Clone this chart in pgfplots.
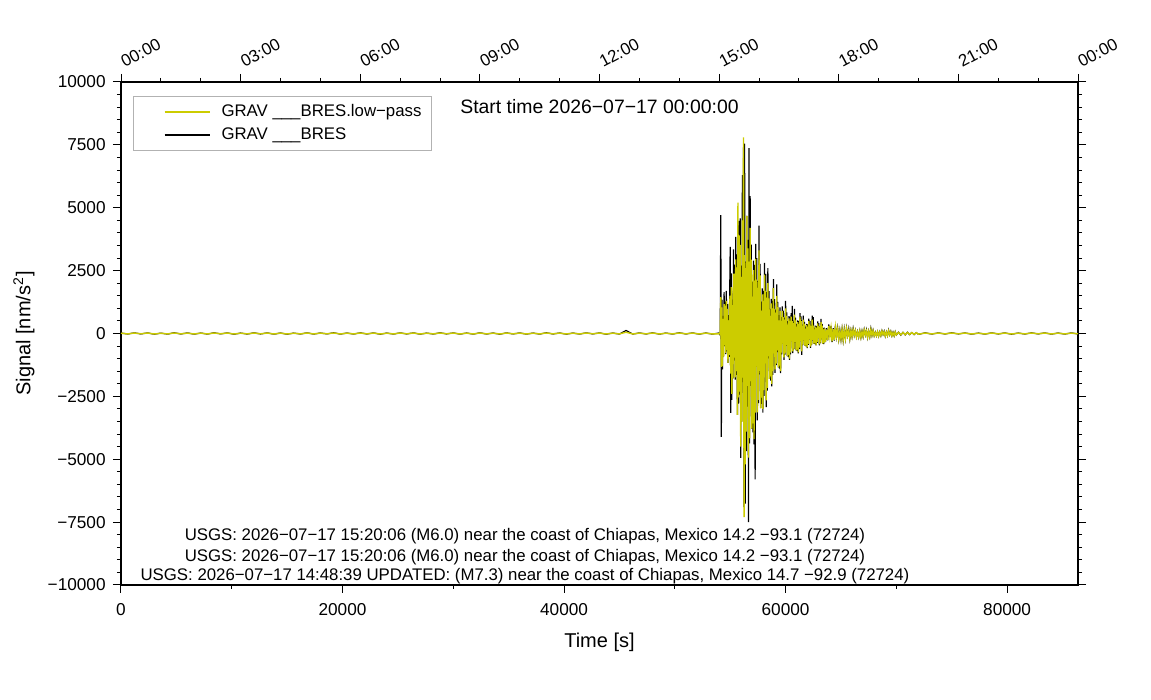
\documentclass[border=0pt]{standalone}
\usepackage{fontspec}
\setmainfont{Liberation Sans}
\usepackage{pgfplots}
\usepackage{pgfplotstable}
\pgfplotsset{compat=1.18}
\definecolor{yel}{RGB}{204,204,0}
\pgfplotstableread{
t B Y
0 18 12
600 -21 -15
1200 25 17
1800 -17 -11
2400 23 18
3000 -27 -19
3600 15 9
4200 -24 -16
4800 29 20
5400 -19 -13
6000 22 14
6600 -26 -18
7200 18 13
7800 -23 -17
8400 28 19
9000 -16 -10
9600 24 17
10200 -29 -20
10800 17 11
11400 -22 -14
12000 26 18
12600 -18 -12
13200 23 16
13800 -25 -18
14400 19 13
15000 -28 -19
15600 16 10
16200 -20 -14
16800 25 18
17400 -23 -16
18000 20 14
18600 -17 -11
19200 29 19
19800 -24 -17
20400 18 12
21000 -22 -16
21600 26 18
22200 -19 -13
22800 22 16
23400 -28 -19
24000 17 11
24600 -23 -16
25200 25 18
25800 -18 -12
26400 24 17
27000 -26 -18
27600 16 10
28200 -22 -14
28800 28 19
29400 -17 -11
30000 23 16
30600 -25 -18
31200 19 13
31800 -24 -17
32400 26 18
33000 -20 -14
33600 18 12
34200 -28 -19
34800 24 17
35400 -18 -12
36000 22 14
36600 -25 -18
37200 17 11
37800 -23 -16
38400 29 20
39000 -19 -13
39600 20 14
40200 -26 -18
40800 18 12
41400 -22 -16
42000 25 18
42600 -17 -11
43200 24 17
43800 -28 -19
44400 19 13
45000 -23 -16
45600 120 50
46200 -24 -17
46800 22 14
47400 -19 -13
48000 26 18
48600 -25 -18
49200 17 11
49800 -22 -14
50400 28 19
51000 -18 -12
51600 23 16
52200 -26 -18
52800 20 14
53400 -24 -17
54000 21 -12
54050 -24 18
54100 36 -21
54150 4710 1450
54200 -4110 -1330
54250 1350 1040
54300 -1430 -1300
54350 700 585
54400 -910 -910
54450 1640 1170
54500 -500 -455
54550 1270 1105
54600 -820 -780
54650 1690 1300
54700 -715 -650
54750 1170 975
54800 -1170 -1170
54850 730 520
54900 -930 -845
54950 1420 1235
55000 3440 1500
55050 -3160 -1600
55100 2390 1840
55150 -2640 -2400
55200 1350 1125
55250 -1785 -1785
55300 3340 2385
55350 -1060 -960
55400 2740 2380
55450 -1830 -1740
55500 3840 2950
55550 -1650 -1500
55600 3150 2625
55650 -3240 -3240
55700 4300 5200
55750 -2790 -2535
55800 4480 3900
55850 -2430 -2310
55900 4580 3520
55950 -4950 -4500
56000 2700 2250
56050 -3500 -3500
56100 6300 4500
56150 -1930 -1750
56200 7400 7800
56250 -6900 -7300
56300 7550 3120
56350 -6760 -5200
56400 2860 2600
56450 -4680 -3900
56500 4680 4680
56550 -2910 -2080
56600 3720 3380
56650 -7500 -4940
56700 7370 2860
56750 -4370 -4160
56800 5460 4200
56850 -2080 -1890
56900 3530 2940
56950 -3780 -3780
57000 2060 1470
57050 -3930 -3570
57100 2900 2520
57150 -4410 -4200
57200 2730 2100
57250 -5800 -3150
57300 3560 2970
57350 -1320 -1320
57400 3000 2145
57450 -3450 -3135
57500 2090 1815
57550 -2770 -2640
57600 4290 3300
57650 -1630 -1485
57700 2770 2310
57750 -2970 -2970
57800 1270 910
57850 -2800 -2550
57900 1790 1560
57950 -3150 -3000
58000 1690 1300
58050 -2480 -2250
58100 2810 2340
58150 -1200 -1200
58200 2370 1690
58250 -2930 -2660
58300 1640 1430
58350 -2270 -2160
58400 2600 2000
58450 -990 -900
58500 1680 1400
58550 -1800 -1800
58600 980 700
58650 -1870 -1700
58700 1380 1200
58750 -2100 -2000
58800 1300 1000
58850 -1650 -1500
58900 2160 1800
58950 -800 -800
59000 1365 975
59050 -1570 -1425
59100 950 825
59150 -1260 -1200
59200 1950 1500
59250 -740 -675
59300 1260 1050
59350 -1350 -1350
59400 735 525
59450 -1400 -1275
59500 1035 900
59550 -1575 -1500
59600 650 500
59650 -825 -750
59700 1080 900
59750 -400 -400
59800 910 650
59850 -1045 -950
59900 630 550
59950 -840 -800
60000 1300 1000
60050 -495 -450
60100 840 700
60150 -900 -900
60200 490 350
60250 -935 -850
60300 690 600
60350 -1050 -1000
60400 650 500
60450 -825 -750
60500 810 675
60550 -300 -300
60600 1100 490
60650 -780 -710
60700 470 410
60750 -630 -600
60800 975 750
60850 -370 -340
60900 630 525
60950 -675 -675
61000 370 260
61050 -700 -640
61100 520 450
61150 -790 -750
61200 490 375
61250 -620 -560
61300 810 675
61350 -300 -300
61400 680 490
61450 -850 -710
61500 350 300
61550 -460 -440
61600 715 550
61650 -270 -250
61700 460 385
61750 -495 -495
61800 270 190
61850 -515 -470
61900 380 330
61950 -580 -550
62000 360 275
62050 -450 -410
62100 595 495
62150 -220 -220
62200 500 360
62250 -575 -520
62300 350 300
62350 -460 -440
62400 715 550
62450 -270 -250
62500 650 315
62550 -405 -405
62600 220 160
62650 -420 -380
62700 310 270
62750 -470 -450
62800 290 225
62850 -370 -340
62900 485 405
62950 -180 -180
63000 410 290
63050 -470 -430
63100 285 250
63150 -380 -360
63200 585 450
63250 -220 -200
63300 380 315
63350 -405 -405
63400 220 160
63450 -420 -380
63500 230 200
63600 -345 -330
63700 215 165
63800 -275 -250
63900 360 300
64000 -130 -130
64100 300 215
64200 -345 -315
64300 210 180
64400 -280 -265
64500 325 250
64600 -125 -110
64700 210 175
64800 -225 -225
64900 125 90
65000 -235 -210
65100 175 150
65200 -265 -250
65300 165 125
65400 -205 -190
65500 215 180
65600 -80 -80
65700 180 130
65800 -210 -190
65900 125 110
66000 -125 -120
66100 195 150
66200 -75 -70
66300 125 105
66400 -135 -135
66500 75 55
66600 -140 -130
66700 105 90
66800 -160 -150
66900 100 75
67000 -125 -115
67100 160 135
67200 -60 -60
67300 140 100
67400 -155 -140
67500 95 85
67600 -125 -120
67700 195 150
67800 -75 -70
67900 125 105
68000 -90 -90
68100 50 35
68200 -95 -85
68300 70 60
68400 -105 -100
68500 65 50
68600 -85 -75
68700 110 90
68800 -40 -40
68900 90 65
69000 -105 -95
69100 65 55
69200 -85 -80
69300 130 100
69400 -50 -45
69500 85 70
69600 -90 -90
69700 50 35
69800 -95 -85
69900 70 60
70000 -60 -55
70200 50 45
70400 -65 -50
70600 45 40
70800 -55 -45
71000 50 40
71200 -45 -35
71400 40 35
71600 -45 -35
71800 35 30
72000 -35 -28
72600 27 19
73200 -23 -16
73800 24 17
74400 -20 -14
75000 28 19
75600 -18 -12
76200 22 16
76800 -26 -18
77400 17 11
78000 -24 -17
78600 25 18
79200 -19 -13
79800 23 16
80400 -28 -19
81000 18 12
81600 -22 -14
82200 26 18
82800 -17 -11
83400 24 17
84000 -25 -18
84600 19 13
85200 -23 -16
85800 22 14
86400 -18 -12
}\datatab

\begin{document}
\begin{tikzpicture}
\path[use as bounding box] (-60.5pt,-57.5pt) rectangle (515pt,292.5pt);
\begin{axis}[
  name=ax,
  width=478.5pt, height=251.5pt, scale only axis,
  xmin=0, xmax=86400, ymin=-10000, ymax=10000,
  axis line style={line width=1pt},
  every tick/.style={black, line width=0.5pt},
  tick align=outside,
  major tick length=4pt, minor tick length=2pt,
  xtick={0,20000,40000,60000,80000},
  xticklabels={0,20000,40000,60000,80000},
  minor x tick num=1, xtick pos=left,
  ytick={-10000,-7500,-5000,-2500,0,2500,5000,7500,10000},
  yticklabels={−10000,−7500,−5000,−2500,0,2500,5000,7500,10000},
  minor y tick num=4,
  scaled ticks=false,
  ticklabel style={font=\fontsize{8.6}{10}\selectfont},
  xticklabel style={anchor=base, inner sep=0pt, yshift=-11.5pt},
  yticklabel style={anchor=east, inner sep=0pt, xshift=-3.5pt},
  xlabel={Time [s]},
  ylabel={Signal [nm/s\textsuperscript{2}]},
  label style={font=\fontsize{10}{12}\selectfont},
  xlabel style={at={(axis description cs:0.5,0)}, anchor=base, yshift=-31.5pt},
  ylabel style={at={(axis description cs:0,0.5)}, anchor=center, yshift=48.5pt},
  legend style={at={(0,1)}, anchor=north west, xshift=6pt, yshift=-7pt,
    draw=gray!60, line width=0.5pt, font=\fontsize{8.4}{10}\selectfont,
    cells={anchor=west}},
  legend image code/.code={\path (0pt,0pt); \path (38pt,0pt); \draw[#1] (12pt,0pt) -- (34.5pt,0pt);},
  clip=true,
]
\addlegendimage{color=yel, line width=1pt}
\addlegendentry{GRAV \_\_\_BRES.low−pass}
\addlegendimage{color=black, line width=1pt}
\addlegendentry{GRAV \_\_\_BRES}
\addplot[black, line width=0.6pt, forget plot] table[x=t, y=B] {\datatab};
\addplot[yel, line width=0.7pt, forget plot] table[x=t, y=Y] {\datatab};
\node[anchor=base, font=\fontsize{9.7}{11}\selectfont] at (axis cs:43200,8767) {Start time 2026−07−17 00:00:00};
\node[anchor=base, font=\fontsize{8.4}{10}\selectfont] at (axis cs:36470,-8250) {USGS: 2026−07−17 15:20:06 (M6.0) near the coast of Chiapas, Mexico 14.2 −93.1 (72724)};
\node[anchor=base, font=\fontsize{8.4}{10}\selectfont] at (axis cs:36470,-9046) {USGS: 2026−07−17 15:20:06 (M6.0) near the coast of Chiapas, Mexico 14.2 −93.1 (72724)};
\node[anchor=base, font=\fontsize{8.4}{10}\selectfont] at (axis cs:36470,-9841) {USGS: 2026−07−17 14:48:39 UPDATED: (M7.3) near the coast of Chiapas, Mexico 14.7 −92.9 (72724)};
\end{axis}
\begin{axis}[
  width=478.5pt, height=251.5pt, scale only axis,
  xmin=0, xmax=24, ymin=0, ymax=1,
  hide y axis,
  axis line style={line width=1pt},
  every tick/.style={black, line width=0.5pt},
  tick align=outside,
  major tick length=4pt, minor tick length=2pt,
  xtick={0,3,6,9,12,15,18,21,24},
  xticklabels={00:00,03:00,06:00,09:00,12:00,15:00,18:00,21:00,00:00},
  minor x tick num=2,
  xtick pos=right, xticklabel pos=right,
  xticklabel style={font=\fontsize{8.4}{10}\selectfont, rotate=28, anchor=south west, inner sep=0pt, xshift=3pt, yshift=1.5pt},
]
\addplot[draw=none] coordinates {(0,0)};
\end{axis}
\end{tikzpicture}
\end{document}
